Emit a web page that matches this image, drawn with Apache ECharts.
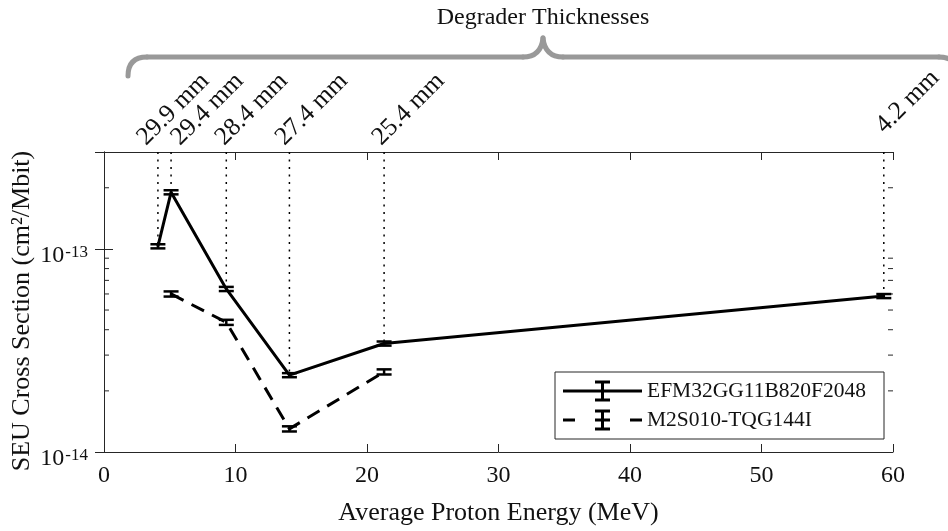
<!DOCTYPE html>
<html>
<head>
<meta charset="utf-8">
<script src="https://cdn.jsdelivr.net/npm/echarts@6/dist/echarts.min.js"></script>
<style>html,body{margin:0;padding:0;background:#fff}#c{width:948px;height:531px}</style>
</head>
<body>
<div id="c"></div>
<script>
// ---- data ----
const energy = [4.1, 5.1, 9.3, 14.1, 21.3, 59.3];               // MeV
const thickness = ['29.9 mm', '29.4 mm', '28.4 mm', '27.4 mm', '25.4 mm', '4.2 mm'];
const efmName = 'EFM32GG11B820F2048';
const efm = [1.03e-13, 1.90e-13, 6.35e-14, 2.39e-14, 3.42e-14, 5.86e-14];
const efmErr = [2.4e-15, 4.4e-15, 1.5e-15, 0.55e-15, 0.8e-15, 1.35e-15];
const m2sName = 'M2S010-TQG144I';
const m2sEnergy = [5.1, 9.3, 14.1, 21.3];
const m2s = [6.0e-14, 4.35e-14, 1.30e-14, 2.48e-14];
const m2sErr = [1.75e-15, 1.26e-15, 0.38e-15, 0.72e-15];
const xTicks = [0, 10, 20, 30, 40, 50, 60];
const yMin = 1e-14, yMax = 3e-13;
const yMinor = [2e-14, 3e-14, 4e-14, 5e-14, 6e-14, 7e-14, 8e-14, 9e-14, 2e-13];

// ---- styling (label nudges in pixels, as placed in the original figure) ----
const labelNudge = [[-7.5, -1.5], [13.5, -1.5], [2.5, -1.5], [-0.5, -1.5], [1.5, -1.5], [5.5, -13.5]];
const FONT = "'Liberation Serif','Times New Roman',serif";
const AX = '#262626';

const efmPts = energy.map((x, i) => [x, efm[i]]);
const m2sPts = m2sEnergy.map((x, i) => [x, m2s[i]]);
const efmBars = energy.map((x, i) => [x, efm[i] - efmErr[i], efm[i] + efmErr[i]]);
const m2sBars = m2sEnergy.map((x, i) => [x, m2s[i] - m2sErr[i], m2s[i] + m2sErr[i]]);

function errRender(params, api) {
  const x = api.value(0), lo = api.value(1), hi = api.value(2);
  const a = api.coord([x, lo]), b = api.coord([x, hi]);
  const hw = 7.5, st = {stroke: '#000', lineWidth: 2.5};
  return {type: 'group', children: [
    {type: 'line', shape: {x1: a[0], y1: a[1], x2: b[0], y2: b[1]}, style: st},
    {type: 'line', shape: {x1: a[0] - hw, y1: a[1], x2: a[0] + hw, y2: a[1]}, style: st},
    {type: 'line', shape: {x1: b[0] - hw, y1: b[1], x2: b[0] + hw, y2: b[1]}, style: st}
  ]};
}

const solidIcon = 'path://M0 9H79V12H0Z M38 0H41V21H38Z M32 0H47V3H32Z M32 18H47V21H32Z';
const dashIcon = 'path://M0 9H12V12H0Z M67 9H79V12H67Z M32 9H47V12H32Z M38 0H41V21H38Z M32 0H47V3H32Z M32 18H47V21H32Z';

const braceStyle = {stroke: '#999', lineWidth: 5, fill: null, lineCap: 'round'};

const chart = echarts.init(document.getElementById('c'), null, {renderer: 'canvas'});
chart.setOption({
  animation: false,
  color: ['#000'],
  grid: {left: 104, right: 55, top: 152, bottom: 79, containLabel: false, outerBoundsMode: 'none'},
  xAxis: [{
    type: 'value', min: xTicks[0], max: xTicks[xTicks.length - 1], interval: 10, position: 'bottom',
    axisLine: {show: true, lineStyle: {color: AX, width: 1}},
    axisTick: {show: true, inside: true, length: 8, lineStyle: {color: AX}},
    axisLabel: {fontFamily: FONT, fontSize: 24, color: '#111', margin: 12},
    splitLine: {show: false},
    name: 'Average Proton Energy (MeV)', nameLocation: 'middle', nameGap: 48,
    nameTextStyle: {fontFamily: FONT, fontSize: 26, color: '#111'}
  }, {
    type: 'value', min: xTicks[0], max: xTicks[xTicks.length - 1], interval: 10, position: 'top',
    axisLine: {show: true, lineStyle: {color: AX, width: 1}},
    axisTick: {show: true, inside: true, length: 8, lineStyle: {color: AX}},
    axisLabel: {show: false}, splitLine: {show: false}
  }],
  yAxis: [{
    type: 'log', logBase: 10, min: yMin, max: yMax, position: 'left',
    axisLine: {show: true, lineStyle: {color: AX, width: 1}},
    axisTick: {show: true, inside: true, length: 9, lineStyle: {color: AX}},
    axisLabel: {
      margin: 16, padding: [14, 0, 0, 0], color: '#111',
      formatter: function (v) {
        const e = Math.log10(v);
        if (Math.abs(e - Math.round(e)) < 1e-6) return '{b|10}{s|' + Math.round(e) + '}';
        return '';
      },
      rich: {
        b: {fontFamily: FONT, fontSize: 24, color: '#111'},
        s: {fontFamily: FONT, fontSize: 17, color: '#111', verticalAlign: 'top', padding: [0, 0, 0, 1]}
      }
    },
    splitLine: {show: false}, minorTick: {show: false},
    name: 'SEU Cross Section (cm²/Mbit)', nameLocation: 'middle', nameGap: 69, nameMoveOverlap: false,
    nameTextStyle: {fontFamily: FONT, fontSize: 26, color: '#111', padding: [0, 18, 0, 0]}
  }, {
    type: 'log', logBase: 10, min: yMin, max: yMax, position: 'right',
    axisLine: {show: true, lineStyle: {color: AX, width: 1}},
    axisTick: {show: true, inside: true, length: 9, lineStyle: {color: AX}},
    axisLabel: {show: false}, splitLine: {show: false}
  }],
  legend: {
    left: 555, top: 372, orient: 'vertical', padding: [8, 18, 8, 8], itemGap: 7,
    itemWidth: 79, itemHeight: 21, selectedMode: false,
    borderColor: AX, borderWidth: 1, backgroundColor: '#fff',
    textStyle: {fontFamily: FONT, fontSize: 21.5, color: '#111'},
    itemStyle: {borderWidth: 0, color: '#000'},
    data: [{name: efmName, icon: solidIcon}, {name: m2sName, icon: dashIcon}]
  },
  graphic: [
    {type: 'bezierCurve', shape: {x1: 128, y1: 76, cpx1: 128, cpy1: 57, x2: 147, y2: 57}, style: braceStyle},
    {type: 'line', shape: {x1: 147, y1: 57, x2: 523, y2: 57}, style: braceStyle},
    {type: 'bezierCurve', shape: {x1: 523, y1: 57, cpx1: 541, cpy1: 57, x2: 543, y2: 38}, style: braceStyle},
    {type: 'bezierCurve', shape: {x1: 543, y1: 38, cpx1: 545, cpy1: 57, x2: 563, y2: 57}, style: braceStyle},
    {type: 'line', shape: {x1: 563, y1: 57, x2: 939, y2: 57}, style: braceStyle},
    {type: 'bezierCurve', shape: {x1: 939, y1: 57, cpx1: 958, cpy1: 57, x2: 958, y2: 76}, style: braceStyle},
    {type: 'text', x: 543, y: 6, style: {text: 'Degrader Thicknesses', font: '24px ' + FONT, fill: '#111', align: 'center', verticalAlign: 'top', textAlign: 'center', textVerticalAlign: 'top'}}
  ],
  series: [
    {
      name: 'guides', type: 'custom', clip: false, silent: true, z: 1,
      data: energy.map((x, i) => [x, efm[i], i]),
      renderItem: function (params, api) {
        const p = api.coord([api.value(0), api.value(1)]);
        const top = params.coordSys.y;
        const idx = api.value(2);
        const nd = labelNudge[idx];
        return {type: 'group', children: [
          {type: 'line', shape: {x1: p[0], y1: top, x2: p[0], y2: p[1]}, style: {stroke: '#000', lineWidth: 1.5, lineDash: [2, 5.5]}},
          {type: 'text', x: p[0] + nd[0], y: top + nd[1], rotation: Math.PI / 4,
           style: {text: thickness[idx], x: 0, y: 0, font: '25.5px ' + FONT, fill: '#111', align: 'left', verticalAlign: 'bottom'}}
        ]};
      }
    },
    {
      name: 'minorTicks', type: 'custom', clip: false, silent: true, z: 1,
      data: yMinor.map(v => [xTicks[0], v]),
      renderItem: function (params, api) {
        const p = api.coord([api.value(0), api.value(1)]);
        const cs = params.coordSys;
        const st = {stroke: AX, lineWidth: 1};
        return {type: 'group', children: [
          {type: 'line', shape: {x1: cs.x, y1: p[1], x2: cs.x + 5, y2: p[1]}, style: st},
          {type: 'line', shape: {x1: cs.x + cs.width, y1: p[1], x2: cs.x + cs.width - 5, y2: p[1]}, style: st}
        ]};
      }
    },
    {
      name: efmName, type: 'line', data: efmPts, symbol: 'none', showSymbol: false, z: 3,
      lineStyle: {color: '#000', width: 3, type: 'solid'}, itemStyle: {color: '#000'}
    },
    {
      name: m2sName, type: 'line', data: m2sPts, symbol: 'none', showSymbol: false, z: 3,
      lineStyle: {color: '#000', width: 3, type: [14, 9]}, itemStyle: {color: '#000'}
    },
    {name: 'efmErr', type: 'custom', clip: false, z: 4, data: efmBars, encode: {x: 0, y: [1, 2]}, renderItem: errRender},
    {name: 'm2sErr', type: 'custom', clip: false, z: 4, data: m2sBars, encode: {x: 0, y: [1, 2]}, renderItem: errRender}
  ]
});
</script>
</body>
</html>
